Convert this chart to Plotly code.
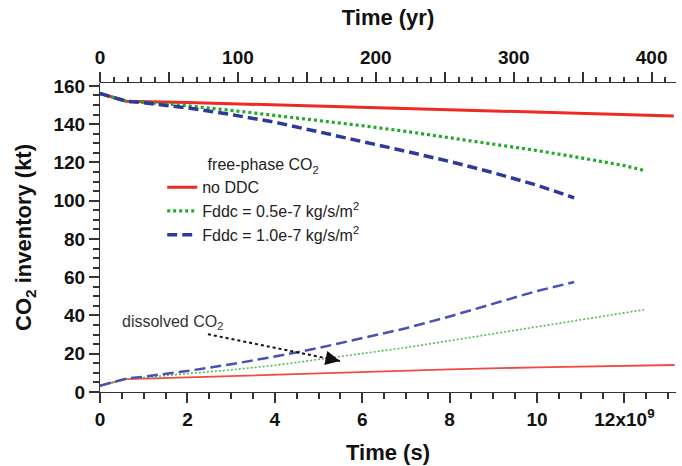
import plotly.graph_objects as go

SEC_PER_YR = 3.1557e7

# ---------------- data (time in units of 1e9 s, inventory in kt) ----------------
red_free_t = [0, 0.6, 2, 4, 6, 8, 10, 12, 13.13]
red_free = [156.0, 152.0, 151.3, 150.1, 148.8, 147.5, 146.2, 145.0, 144.3]

green_free_t = [0, 0.6, 1, 2, 3, 4, 5, 6, 7, 8, 9, 10, 11, 12, 12.47]
green_free = [156.0, 152.0, 151.4, 149.6, 147.2, 144.6, 141.9, 139.2, 136.2, 133.0,
              129.8, 126.2, 122.4, 118.3, 115.7]

blue_free_t = [0, 0.6, 1, 2, 3, 4, 5, 6, 7, 8, 9, 10, 10.85]
blue_free = [156.0, 152.0, 151.2, 148.5, 145.0, 141.0, 136.0, 131.0, 125.8, 120.5,
             114.6, 108.1, 101.5]

red_diss_t = [0, 0.6, 2, 4, 6, 8, 10, 12, 13.15]
red_diss = [3.3, 6.7, 7.6, 9.0, 10.5, 11.8, 12.9, 13.7, 14.1]

green_diss_t = [0, 0.6, 1, 2, 3, 4, 5, 6, 7, 8, 9, 10, 11, 12, 12.45]
green_diss = [3.3, 6.8, 7.6, 9.5, 11.6, 13.9, 17.0, 19.9, 23.2, 26.8, 30.5, 34.3,
              38.0, 41.4, 43.0]

blue_diss_t = [0, 0.6, 1, 2, 3, 4, 5, 6, 7, 8, 9, 10, 10.85]
blue_diss = [3.3, 7.0, 8.0, 11.0, 14.5, 18.5, 23.0, 28.0, 33.3, 39.5, 46.3, 52.8, 57.5]

series_names = ["no DDC", "Fddc = 0.5e-7 kg/s/m<sup>2</sup>", "Fddc = 1.0e-7 kg/s/m<sup>2</sup>"]

x_tick_step = 2
x_label_alias = {"12": "12x10<sup>9</sup>"}
yr_tick_step = 50
y_tick_step = 20

x_minor_step = 0.5
yr_minor_step = 10
y_minor_step = 5

x_max = 13.18
y_max = 161.5

label_text = "dissolved CO<sub>2</sub>"
label_pos = [1.65, 36.2]
arrow_tail = [2.47, 30.2]
arrow_head = [5.49, 16.2]

# ---------------- figure ----------------
FONT = "Liberation Sans, Arial, Helvetica, sans-serif"
AX = "#333333"

RED = "#ee2a24"
GREEN = "#1faa2a"
BLUE = "#2b3a9c"

yr_max = x_max * 1e9 / SEC_PER_YR

fig = go.Figure()

# free-phase (thick, in legend)
fig.add_trace(go.Scatter(x=red_free_t, y=red_free, mode="lines", name=series_names[0],
                         line=dict(color=RED, width=3), legendgroup="a"))
fig.add_trace(go.Scatter(x=green_free_t, y=green_free, mode="lines", name=series_names[1],
                         line=dict(color=GREEN, width=3.2, dash="3px,3px"), legendgroup="b"))
fig.add_trace(go.Scatter(x=blue_free_t, y=blue_free, mode="lines", name=series_names[2],
                         line=dict(color=BLUE, width=3.5, dash="10px,5px"), legendgroup="c"))

# dissolved (thin)
fig.add_trace(go.Scatter(x=red_diss_t, y=red_diss, mode="lines", showlegend=False,
                         line=dict(color="#f04a44", width=1.8)))
fig.add_trace(go.Scatter(x=green_diss_t, y=green_diss, mode="lines", showlegend=False,
                         line=dict(color="#4cbe4c", width=1.6, dash="2px,2px")))
fig.add_trace(go.Scatter(x=blue_diss_t, y=blue_diss, mode="lines", showlegend=False,
                         line=dict(color="#4652b4", width=2.5, dash="11px,5px")))

# invisible trace on a thin strip subplot that carries the top (years) axis
yrs = [t * 1e9 / SEC_PER_YR for t in red_free_t]
fig.add_trace(go.Scatter(x=yrs, y=red_free, xaxis="x2", yaxis="y2", mode="lines",
                         opacity=0, showlegend=False, line=dict(width=0)))

tickfont = dict(family=FONT, size=19, color="#111111", weight="bold")
titlefont = dict(family=FONT, size=22, color="#111111", weight="bold")

fig.update_layout(
    width=682, height=466,
    margin=dict(l=100, r=6, t=83, b=74),
    paper_bgcolor="white", plot_bgcolor="rgba(0,0,0,0)",
    xaxis=dict(
        range=[0, x_max], tickmode="linear", tick0=0, dtick=x_tick_step,
        labelalias=x_label_alias,
        ticks="outside", ticklen=10, tickwidth=2, tickcolor=AX,
        showline=True, linecolor=AX, showgrid=False, zeroline=False,
        tickfont=tickfont,
        minor=dict(dtick=x_minor_step, ticks="outside", ticklen=6, tickcolor=AX, tickwidth=1.5),
        title=dict(text="Time (s)", font=titlefont, standoff=15),
    ),
    yaxis=dict(
        domain=[0, 1], range=[0, y_max], tickmode="linear", tick0=0, dtick=y_tick_step,
        ticks="outside", ticklen=10, tickwidth=2, tickcolor=AX,
        showline=True, linecolor=AX, showgrid=False, zeroline=False,
        tickfont=tickfont,
        minor=dict(dtick=y_minor_step, ticks="outside", ticklen=6, tickcolor=AX, tickwidth=1.5),
        title=dict(text="CO<sub>2</sub> inventory (kt)", font=titlefont, standoff=15),
    ),
    xaxis2=dict(
        anchor="y2", side="top", range=[0, yr_max],
        tickmode="linear", tick0=0, dtick=yr_tick_step, ticklabelstep=2,
        ticks="outside", ticklen=10, tickwidth=2, tickcolor=AX,
        showline=True, linecolor=AX, showgrid=False, zeroline=False,
        tickfont=tickfont,
        minor=dict(dtick=yr_minor_step, ticks="outside", ticklen=5, tickcolor=AX, tickwidth=1.5),
        title=dict(text="Time (yr)", font=titlefont, standoff=15),
    ),
    yaxis2=dict(
        anchor="x2", domain=[0.999, 1], visible=False, showgrid=False, zeroline=False,
    ),
    legend=dict(
        x=0.108, y=0.785, xanchor="left", yanchor="top",
        bgcolor="rgba(0,0,0,0)", borderwidth=0,
        font=dict(family=FONT, size=16, color="#222222"),
        title=dict(text="free-phase CO<sub>2</sub>", side="top center",
                   font=dict(family=FONT, size=16, color="#222222")),
        tracegroupgap=0,
    ),
    showlegend=True,
)

# dissolved CO2 label and dotted arrow
fig.add_annotation(x=label_pos[0], y=label_pos[1], xref="x", yref="y", text=label_text,
                   showarrow=False, font=dict(family=FONT, size=16, color="#333333"))
fig.add_shape(type="line", xref="x", yref="y",
              x0=arrow_tail[0], y0=arrow_tail[1], x1=arrow_head[0], y1=arrow_head[1],
              line=dict(color="#111111", width=2, dash="dot"))
fig.add_annotation(x=arrow_head[0], y=arrow_head[1], xref="x", yref="y", text="",
                   showarrow=True, arrowhead=2, arrowsize=1.6, arrowwidth=1.8,
                   arrowcolor="#111111", ax=-12, ay=-2.5, standoff=0)

fig.write_html("out.html")
